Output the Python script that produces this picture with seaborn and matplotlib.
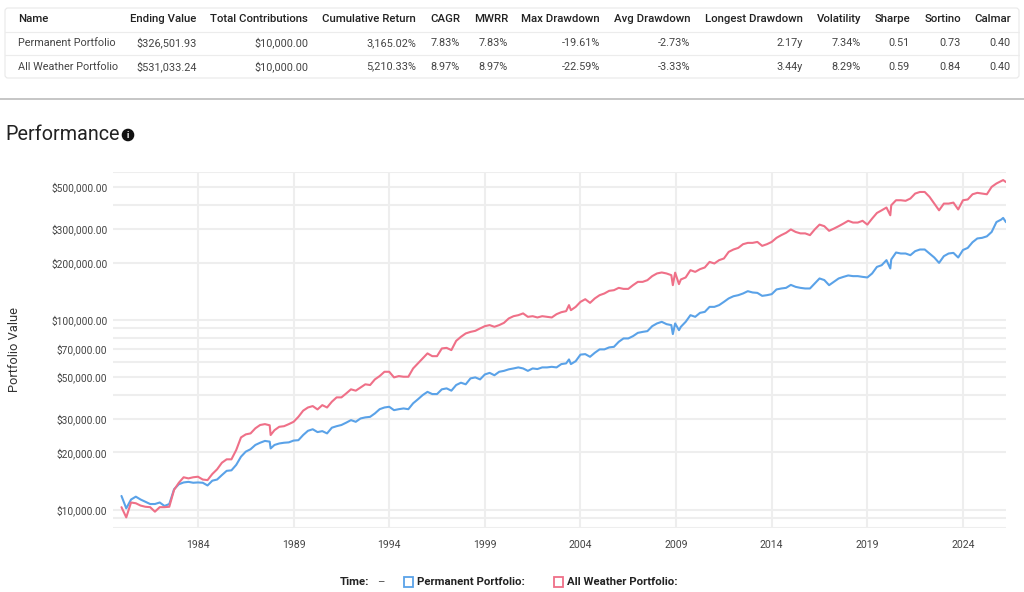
"""Permanent vs All Weather 포트폴리오 성과 차트 (표 + 로그축 라인)."""

import matplotlib

matplotlib.use("Agg")
import matplotlib.pyplot as plt  # noqa: E402
import pandas as pd  # noqa: E402
import seaborn as sns  # noqa: E402
from matplotlib.patches import FancyBboxPatch, Rectangle  # noqa: E402
from matplotlib.ticker import FixedLocator, FuncFormatter, NullFormatter  # noqa: E402

HEADERS = ["Name", "Ending Value", "Total Contributions", "Cumulative Return", "CAGR", "MWRR",
           "Max Drawdown", "Avg Drawdown", "Longest Drawdown", "Volatility", "Sharpe", "Sortino", "Calmar"]
ROW_PERMANENT = ["Permanent Portfolio", "$326,501.93", "$10,000.00", "3,165.02%", "7.83%", "7.83%",
                 "-19.61%", "-2.73%", "2.17y", "7.34%", "0.51", "0.73", "0.40"]
ROW_WEATHER = ["All Weather Portfolio", "$531,033.24", "$10,000.00", "5,210.33%", "8.97%", "8.97%",
               "-22.59%", "-3.33%", "3.44y", "8.29%", "0.59", "0.84", "0.40"]

YEARS = [
    1980.0, 1980.25, 1980.5, 1980.75, 1981.0, 1981.25, 1981.5, 1981.75,
    1982.0, 1982.25, 1982.5, 1982.75, 1983.0, 1983.25, 1983.5, 1983.75,
    1984.0, 1984.25, 1984.5, 1984.75, 1985.0, 1985.25, 1985.5, 1985.75,
    1986.0, 1986.25, 1986.5, 1986.75, 1987.0, 1987.25, 1987.5, 1987.75, 1987.8,
    1988.0, 1988.25, 1988.5, 1988.75, 1989.0, 1989.25, 1989.5, 1989.75,
    1990.0, 1990.25, 1990.5, 1990.75, 1991.0, 1991.25, 1991.5, 1991.75,
    1992.0, 1992.25, 1992.5, 1992.75, 1993.0, 1993.25, 1993.5, 1993.75,
    1994.0, 1994.25, 1994.5, 1994.75, 1995.0, 1995.25, 1995.5, 1995.75,
    1996.0, 1996.25, 1996.5, 1996.75, 1997.0, 1997.25, 1997.5, 1997.75,
    1998.0, 1998.25, 1998.5, 1998.75, 1999.0, 1999.25, 1999.5, 1999.75,
    2000.0, 2000.25, 2000.5, 2000.75, 2001.0, 2001.25, 2001.5, 2001.75,
    2002.0, 2002.25, 2002.5, 2002.75, 2003.0, 2003.25, 2003.4, 2003.5, 2003.75,
    2004.0, 2004.25, 2004.5, 2004.75, 2005.0, 2005.25, 2005.5, 2005.75,
    2006.0, 2006.25, 2006.5, 2006.75, 2007.0, 2007.25, 2007.5, 2007.75,
    2008.0, 2008.25, 2008.5, 2008.75, 2008.83, 2008.95,
    2009.15, 2009.25, 2009.5, 2009.75, 2010.0, 2010.25, 2010.5, 2010.75,
    2011.0, 2011.25, 2011.5, 2011.75, 2012.0, 2012.25, 2012.5, 2012.75,
    2013.0, 2013.25, 2013.5, 2013.75, 2014.0, 2014.25, 2014.5, 2014.75,
    2015.0, 2015.25, 2015.5, 2015.75, 2016.0, 2016.25, 2016.5, 2016.75,
    2017.0, 2017.25, 2017.5, 2017.75, 2018.0, 2018.25, 2018.5, 2018.75,
    2019.0, 2019.25, 2019.5, 2019.75, 2020.0, 2020.2, 2020.25, 2020.5, 2020.75,
    2021.0, 2021.25, 2021.5, 2021.75, 2022.0, 2022.25, 2022.5, 2022.75,
    2023.0, 2023.25, 2023.5, 2023.75, 2024.0, 2024.25, 2024.5, 2024.75,
    2025.0, 2025.25, 2025.5, 2025.75, 2026.0, 2026.1, 2026.25,
]

# 단위: 천 달러
ALL_WEATHER = [
    10.3, 9.1, 10.9, 10.8, 10.5, 10.35, 10.3, 9.75,
    10.3, 10.3, 10.35, 12.7, 13.85, 14.8, 14.6, 14.8,
    14.9, 14.4, 14.3, 15.4, 16.3, 17.65, 18.4, 18.4,
    20.6, 24.0, 24.9, 25.2, 26.8, 27.9, 28.2, 27.8, 24.7,
    26.2, 27.3, 27.5, 28.2, 29.0, 30.8, 33.2, 34.5,
    35.1, 33.7, 35.5, 34.5, 37.0, 39.0, 39.0, 40.9,
    43.0, 42.3, 44.0, 45.7, 45.3, 48.5, 50.5, 53.2,
    53.2, 49.7, 50.5, 50.1, 50.1, 55.4, 58.9, 62.6,
    66.5, 64.3, 64.3, 70.6, 71.1, 69.2, 77.4, 81.3,
    84.7, 86.3, 87.4, 90.0, 92.5, 93.7, 91.8, 93.7,
    96.3, 101.6, 104.4, 105.7, 108.0, 103.6, 104.4, 102.8,
    104.4, 103.6, 102.8, 107.0, 109.6, 111.0, 119.4, 112.3, 116.9,
    124.2, 128.3, 122.7, 129.5, 134.7, 137.5, 142.0, 143.1,
    147.2, 145.4, 145.4, 152.1, 158.3, 158.3, 161.6, 169.7,
    175.3, 177.4, 175.3, 171.7, 152.1, 177.0,
    154.0, 163.0, 167.0, 182.4, 178.7, 184.7, 188.5, 201.7,
    197.8, 206.0, 210.2, 227.7, 234.4, 239.0, 250.0, 254.0,
    254.0, 257.0, 245.0, 250.0, 257.0, 270.0, 279.0, 287.0,
    299.0, 290.0, 285.0, 285.0, 279.0, 299.0, 317.0, 311.0,
    294.0, 302.0, 311.0, 321.0, 332.0, 325.0, 325.0, 332.0,
    317.0, 341.0, 365.0, 377.0, 390.0, 355.0, 401.0, 426.0, 426.0,
    423.0, 435.0, 462.0, 471.0, 471.0, 444.0, 409.0, 377.0,
    409.0, 409.0, 414.0, 381.0, 426.0, 430.0, 458.0, 466.0,
    462.0, 458.0, 501.0, 522.0, 538.0, 544.0, 531.03,
]
PERMANENT = [
    11.8, 10.15, 11.3, 11.7, 11.3, 11.0, 10.7, 10.7,
    10.9, 10.45, 10.7, 12.8, 13.6, 13.9, 14.0, 13.85,
    13.9, 13.85, 13.4, 14.2, 14.4, 15.2, 16.0, 16.1,
    17.2, 19.0, 20.2, 20.8, 21.9, 22.5, 23.0, 22.8, 21.0,
    21.9, 22.3, 22.5, 22.6, 23.1, 23.2, 24.7, 26.0,
    26.5, 25.6, 25.9, 25.2, 27.0, 27.5, 27.9, 28.7,
    29.6, 29.0, 30.2, 30.6, 30.8, 32.1, 33.8, 34.5,
    34.8, 33.4, 33.8, 34.1, 33.8, 36.3, 38.1, 40.1,
    41.7, 40.6, 40.6, 43.0, 43.5, 42.3, 45.3, 46.6,
    45.7, 49.1, 49.7, 48.5, 51.5, 52.5, 51.0, 53.2,
    53.8, 54.8, 55.4, 56.1, 55.4, 53.8, 55.4, 55.0,
    56.1, 56.1, 56.5, 56.1, 58.4, 58.9, 61.8, 58.4, 60.5,
    65.5, 65.9, 63.8, 67.0, 69.8, 69.8, 71.5, 72.0,
    76.5, 79.7, 79.7, 82.0, 85.3, 86.3, 87.1, 92.5,
    95.6, 97.5, 94.8, 93.7, 84.0, 95.6,
    88.1, 91.8, 97.5, 105.7, 103.6, 108.7, 110.0, 116.9,
    116.9, 119.4, 124.2, 129.5, 133.0, 134.7, 137.5, 141.4,
    139.2, 138.5, 133.6, 134.7, 136.4, 144.4, 146.1, 147.2,
    152.6, 149.0, 147.2, 146.1, 146.1, 155.2, 165.0, 161.8,
    152.1, 158.3, 165.0, 168.2, 171.1, 169.7, 169.7, 168.2,
    167.0, 175.3, 189.8, 193.8, 206.0, 186.2, 207.7, 226.0, 223.3,
    223.3, 218.8, 229.7, 234.4, 234.4, 223.3, 212.7, 199.3,
    216.2, 223.3, 225.0, 212.7, 233.0, 239.0, 256.0, 268.0,
    270.0, 275.0, 290.0, 327.0, 337.0, 343.8, 326.5,
]

Y_LABELED = [10000, 20000, 30000, 50000, 70000, 100000, 200000, 300000, 500000]
Y_MINOR = [8000, 9000, 40000, 60000, 80000, 90000, 400000, 600000]
X_TICKS = [1984, 1989, 1994, 1999, 2004, 2009, 2014, 2019, 2024]

BLUE, RED = "#5aa2e8", "#ef7088"
GRID = "#eeeeee"
TEXT = "#444444"
W, H = 1024, 592

sns.set_theme(style="white")
plt.rcParams["font.family"] = ["Roboto", "DejaVu Sans"]

df = pd.DataFrame(
    {"year": YEARS * 2,
     "value": [v * 1000 for v in PERMANENT] + [v * 1000 for v in ALL_WEATHER],
     "name": ["Permanent Portfolio"] * len(YEARS) + ["All Weather Portfolio"] * len(YEARS)}
)

fig = plt.figure(figsize=(W / 100, H / 100), dpi=100, facecolor="white")

# 메인 차트: 픽셀 기준 113~1006, 172~528
ax = fig.add_axes([113 / W, 1 - 528 / H, (1006 - 113) / W, (528 - 172) / H])
sns.lineplot(data=df, x="year", y="value", hue="name", palette={"Permanent Portfolio": BLUE, "All Weather Portfolio": RED},
             linewidth=1.5, legend=False, errorbar=None, ax=ax)
ax.set_yscale("log")
ax.set_xlim(1979.557, 2026.25)
ax.set_ylim(8000, 600000)
ax.yaxis.set_major_locator(FixedLocator(Y_LABELED))
ax.yaxis.set_minor_locator(FixedLocator(Y_MINOR))
ax.yaxis.set_major_formatter(FuncFormatter(lambda v, _: f"${v:,.2f}"))
ax.yaxis.set_minor_formatter(NullFormatter())
ax.set_xticks(X_TICKS)
ax.set_xticklabels([str(y) for y in X_TICKS])
ax.grid(True, which="both", color=GRID, linewidth=1.5, zorder=0)
ax.set_axisbelow(True)
ax.tick_params(axis="both", which="both", length=0, colors=TEXT)
ax.tick_params(axis="y", pad=4, labelsize=7.3)
ax.tick_params(axis="x", pad=9, labelsize=7.6)
ax.set_xlabel("")
ax.set_ylabel("")
sns.despine(ax=ax, left=True, bottom=True)

# 표와 범례는 픽셀 좌표 오버레이에 그림
ov = fig.add_axes([0, 0, 1, 1], facecolor="none")
ov.set_xlim(0, W)
ov.set_ylim(H, 0)
ov.axis("off")

ov.text(14.5, 350, "Portfolio Value", rotation=90, ha="center", va="center", fontsize=9.3, color="#333333")

ov.add_patch(FancyBboxPatch((5, 8), 1014, 70, boxstyle="round,pad=0,rounding_size=3",
                            facecolor="white", edgecolor="#e8e8e8", linewidth=0.8))
ov.plot([5, 1019], [31.5, 31.5], color="#ececec", linewidth=0.8)
ov.plot([5, 1019], [54.5, 54.5], color="#ececec", linewidth=0.8)
ov.plot([0, W], [99, 99], color="#c6c6c6", linewidth=1.4)

COL_RIGHT = [None, 196.5, 308, 416, 460, 508, 600, 690, 802.5, 861, 910, 961, 1011]
for i, (head, a, b) in enumerate(zip(HEADERS, ROW_PERMANENT, ROW_WEATHER)):
    x = 18 if i == 0 else COL_RIGHT[i]
    ha = "left" if i == 0 else "right"
    ov.text(x, 19.5, head, ha=ha, va="center", fontsize=8.2, fontweight="medium", color="#222222")
    ov.text(x, 43, a, ha=ha, va="center", fontsize=7.8, color=TEXT)
    ov.text(x, 66.5, b, ha=ha, va="center", fontsize=7.8, color=TEXT)

ov.text(5, 134.5, "Performance", ha="left", va="center", fontsize=14.2, color="#222222")
ov.add_patch(plt.Circle((128, 135), 5.6, color="#111111"))
ov.text(128, 135, "i", ha="center", va="center", fontsize=6.5, fontweight="bold", color="white")

ov.text(340, 582, "Time:", ha="left", va="center", fontsize=8.2, fontweight="bold", color="#222222")
ov.text(377, 582, "–", ha="left", va="center", fontsize=8.2, color=TEXT)
ov.add_patch(Rectangle((403.5, 577), 9.5, 9.5, facecolor="white", edgecolor=BLUE, linewidth=1.3))
ov.text(417, 582, "Permanent Portfolio:", ha="left", va="center", fontsize=8.2, fontweight="bold", color="#222222")
ov.add_patch(Rectangle((553.5, 577), 9.5, 9.5, facecolor="white", edgecolor=RED, linewidth=1.3))
ov.text(567, 582, "All Weather Portfolio:", ha="left", va="center", fontsize=8.2, fontweight="bold", color="#222222")

fig.savefig("out.png", dpi=100)
plt.close(fig)
